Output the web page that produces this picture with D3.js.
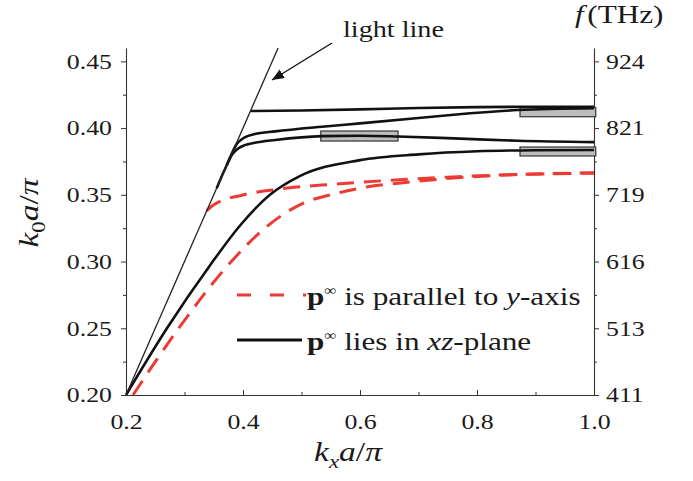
<!DOCTYPE html>
<html>
<head>
<meta charset="utf-8">
<script src="https://cdn.jsdelivr.net/npm/d3@7"></script>
<style>
  html, body { margin: 0; padding: 0; background: #fff; }
  svg { display: block; }
  text { font-family: "Liberation Serif", "Times New Roman", serif; fill: #1a1a1a; }
</style>
</head>
<body>
<svg id="chart" width="693" height="481"></svg>
<script>
// Axis ticks and labels
const kxTicks = [0.2, 0.4, 0.6, 0.8, 1.0];
const kxMinorTicks = [0.3, 0.5, 0.7, 0.9];
const k0Ticks = [0.20, 0.25, 0.30, 0.35, 0.40, 0.45];
const k0MinorTicks = [0.225, 0.275, 0.325, 0.375, 0.425];
const freqLabels = ["411", "513", "616", "719", "821", "924"];

// Light line k0 = kx
const lightLine = [[0.2, 0.2], [0.46, 0.46]];

// Bands with p-infinity lying in the xz-plane (kx, k0)
const xzBand1 = [[0.413, 0.4128], [0.5, 0.4132], [0.6, 0.4140], [0.7, 0.4150], [0.8, 0.4157], [0.9, 0.4160], [1.0, 0.4160]];
const xzBand2 = [[0.372, 0.372], [0.383, 0.383], [0.39, 0.3885], [0.397, 0.3913], [0.403, 0.3930], [0.42, 0.3955], [0.455, 0.3975], [0.535, 0.4010], [0.6, 0.4035], [0.7, 0.4075], [0.76, 0.4100], [0.87, 0.4135], [1.0, 0.4148]];
const xzBand3 = [[0.355, 0.355], [0.372, 0.372], [0.382, 0.3805], [0.392, 0.3848], [0.403, 0.3872], [0.42, 0.3890], [0.455, 0.3911], [0.535, 0.3940], [0.6, 0.3943], [0.665, 0.3937], [0.76, 0.3923], [0.87, 0.3905], [1.0, 0.3895]];
const xzBand4 = [[0.2, 0.2], [0.27, 0.25], [0.345, 0.298], [0.395, 0.327], [0.446, 0.350], [0.497, 0.364], [0.6, 0.3760], [0.7, 0.3803], [0.8, 0.3826], [0.9, 0.3834], [1.0, 0.3836]];

// Bands with p-infinity parallel to the y-axis (kx, k0)
const yBand1 = [[0.338, 0.338], [0.35, 0.3425], [0.4, 0.3499], [0.457, 0.3541], [0.56, 0.3581], [0.66, 0.3611], [0.75, 0.3632], [0.85, 0.3650], [1.0, 0.3665]];
const yBand2 = [[0.212, 0.2], [0.29, 0.25], [0.38, 0.30], [0.44, 0.326], [0.497, 0.3425], [0.56, 0.3511], [0.611, 0.3558], [0.691, 0.3598], [0.748, 0.3622], [0.85, 0.3648], [1.0, 0.3662]];

// Highlighted regions of near-degeneracy: [kx0, kx1, k0lo, k0hi]
const boxes = [
  [0.533, 0.665, 0.3903, 0.3978],
  [0.8735, 1.003, 0.4085, 0.4154],
  [0.8735, 1.003, 0.3791, 0.3858]
];

const svg = d3.select("#chart");
const x = d3.scaleLinear().domain([0.2, 1.0]).range([126, 594]);
const y = d3.scaleLinear().domain([0.2, 0.46]).range([395, 48]);
const SX = 1.2; // horizontal stretch of the serif lettering

const line = d3.line().x(d => x(d[0])).y(d => y(d[1])).curve(d3.curveMonotoneX);

// Axes
function styleAxis(g) {
  g.selectAll("path.domain").attr("stroke", "#333").attr("stroke-width", 1.1);
  g.selectAll(".tick line").attr("stroke", "#333").attr("stroke-width", 1);
}

const gBottom = svg.append("g").attr("transform", `translate(0,${y(0.2)})`)
  .call(d3.axisBottom(x).tickValues(kxTicks).tickFormat(d3.format(".1f"))
    .tickSize(-5).tickSizeOuter(0).tickPadding(19));
styleAxis(gBottom);
gBottom.selectAll("text").attr("font-size", 21.5).attr("transform", `scale(${SX},1)`)
  .attr("font-family", "Liberation Serif").attr("fill", "#1a1a1a");
svg.append("g").attr("transform", `translate(0,${y(0.2)})`)
  .call(d3.axisBottom(x).tickValues(kxMinorTicks).tickFormat("").tickSize(-3).tickSizeOuter(0))
  .call(g => g.select("path.domain").remove())
  .call(styleAxis);

const gLeft = svg.append("g").attr("transform", `translate(${x(0.2)},0)`)
  .call(d3.axisLeft(y).tickValues(k0Ticks).tickFormat(d3.format(".2f"))
    .tickSize(5).tickSizeOuter(0));
styleAxis(gLeft);
gLeft.selectAll("text").attr("font-size", 21.5).attr("transform", `scale(${SX},1)`)
  .attr("x", -14 / SX).attr("font-family", "Liberation Serif").attr("fill", "#1a1a1a");
svg.append("g").attr("transform", `translate(${x(0.2)},0)`)
  .call(d3.axisLeft(y).tickValues(k0MinorTicks).tickFormat("").tickSize(3).tickSizeOuter(0))
  .call(g => g.select("path.domain").remove())
  .call(styleAxis);

const gRight = svg.append("g").attr("transform", `translate(${x(1.0)},0)`)
  .call(d3.axisRight(y).tickValues(k0Ticks).tickFormat((d, i) => freqLabels[i])
    .tickSize(5).tickSizeOuter(0));
styleAxis(gRight);
gRight.selectAll("text").attr("font-size", 21.5).attr("transform", `scale(${SX},1)`)
  .attr("x", 12 / SX).attr("font-family", "Liberation Serif").attr("fill", "#1a1a1a");
svg.append("g").attr("transform", `translate(${x(1.0)},0)`)
  .call(d3.axisRight(y).tickValues(k0MinorTicks).tickFormat("").tickSize(3).tickSizeOuter(0))
  .call(g => g.select("path.domain").remove())
  .call(styleAxis);

// Highlight boxes
svg.append("g").selectAll("rect").data(boxes).join("rect")
  .attr("x", d => x(d[0])).attr("width", d => x(d[1]) - x(d[0]))
  .attr("y", d => y(d[3])).attr("height", d => y(d[2]) - y(d[3]))
  .attr("fill", "#bdbdbd").attr("stroke", "#333").attr("stroke-width", 1.2);

// Dispersion curves
const plot = svg.append("g");
plot.selectAll("path.yband").data([yBand1, yBand2]).join("path")
  .attr("class", "yband").attr("d", line).attr("fill", "none")
  .attr("stroke", "#ee3a35").attr("stroke-width", 3).attr("stroke-dasharray", "17,10");
plot.selectAll("path.xzband").data([xzBand1, xzBand2, xzBand3, xzBand4]).join("path")
  .attr("class", "xzband").attr("d", line).attr("fill", "none")
  .attr("stroke", "#111").attr("stroke-width", 2.6);
plot.append("path").datum(lightLine).attr("d", d3.line().x(d => x(d[0])).y(d => y(d[1])))
  .attr("fill", "none").attr("stroke", "#222").attr("stroke-width", 1.3);

// Light line annotation
svg.append("defs").append("marker").attr("id", "arrowHead")
  .attr("viewBox", "0 0 12 10").attr("refX", 12).attr("refY", 5)
  .attr("markerWidth", 12).attr("markerHeight", 10).attr("markerUnits", "userSpaceOnUse")
  .attr("orient", "auto")
  .append("path").attr("d", "M0,0 L12,5 L0,10 z").attr("fill", "#111");
svg.append("line").attr("x1", 332).attr("y1", 43).attr("x2", 272).attr("y2", 80)
  .attr("stroke", "#111").attr("stroke-width", 1.4).attr("marker-end", "url(#arrowHead)");
svg.append("g").attr("transform", `translate(343,37) scale(${SX},1)`)
  .append("text").attr("font-size", 23.5).text("light line");

// Axis titles
const xt = svg.append("g").attr("transform", `translate(348,461) scale(${SX},1)`)
  .append("text").attr("text-anchor", "middle").attr("font-size", 28);
xt.append("tspan").attr("font-style", "italic").text("k");
xt.append("tspan").attr("font-style", "italic").attr("font-size", 19).attr("dy", 7).text("x");
xt.append("tspan").attr("font-style", "italic").attr("dy", -7).text("a");
xt.append("tspan").text("/");
xt.append("tspan").attr("font-style", "italic").text("π");

const yt = svg.append("g").attr("transform", `translate(38,213) rotate(-90) scale(${SX},1)`)
  .append("text").attr("text-anchor", "middle").attr("font-size", 28);
yt.append("tspan").attr("font-style", "italic").text("k");
yt.append("tspan").attr("font-size", 19).attr("dy", 7).text("0");
yt.append("tspan").attr("font-style", "italic").attr("dy", -7).text("a");
yt.append("tspan").text("/");
yt.append("tspan").attr("font-style", "italic").text("π");

const ft = svg.append("g").attr("transform", `translate(575,23) scale(${SX},1)`)
  .append("text").attr("font-size", 26);
ft.append("tspan").attr("font-style", "italic").text("f");
ft.append("tspan").attr("dx", 3).text("(THz)");

// Legend
const legend = svg.append("g");
legend.append("line").attr("x1", 237).attr("x2", 306).attr("y1", 295).attr("y2", 295)
  .attr("stroke", "#ee3a35").attr("stroke-width", 3).attr("stroke-dasharray", "14,19");
legend.append("line").attr("x1", 237).attr("x2", 302).attr("y1", 340).attr("y2", 340)
  .attr("stroke", "#111").attr("stroke-width", 3);

const l1 = legend.append("g").attr("transform", `translate(307,305) scale(${SX},1)`)
  .append("text").attr("font-size", 26);
l1.append("tspan").attr("font-weight", "bold").text("p");
l1.append("tspan").attr("font-size", 14).attr("dy", -10).text("∞");
l1.append("tspan").attr("dy", 10).text(" is parallel to ");
l1.append("tspan").attr("font-style", "italic").text("y");
l1.append("tspan").text("-axis");

const l2 = legend.append("g").attr("transform", `translate(307,350) scale(${SX},1)`)
  .append("text").attr("font-size", 26);
l2.append("tspan").attr("font-weight", "bold").text("p");
l2.append("tspan").attr("font-size", 14).attr("dy", -10).text("∞");
l2.append("tspan").attr("dy", 10).text(" lies in ");
l2.append("tspan").attr("font-style", "italic").text("xz");
l2.append("tspan").text("-plane");
</script>
</body>
</html>
